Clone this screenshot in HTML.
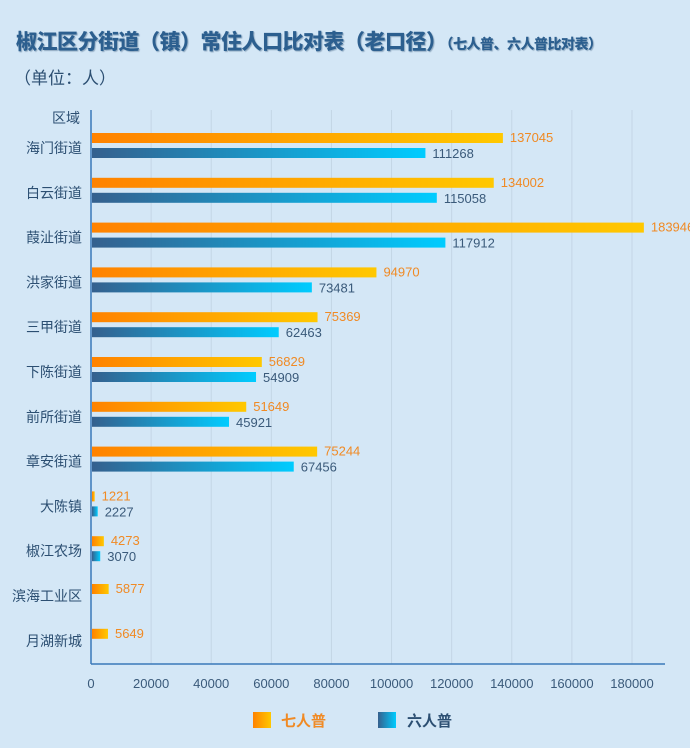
<!DOCTYPE html>
<html><head><meta charset="utf-8"><style>
body{margin:0;width:690px;height:748px;background:#d4e7f6;font-family:"Liberation Sans","Noto Sans CJK SC",sans-serif;overflow:hidden;position:relative}
.t{position:absolute;white-space:nowrap}
</style></head><body>
<div class="t" style="left:16px;top:26px;font-size:21px;font-weight:900;color:#2c5f8f;text-shadow:1px 1px 1px #8fa9c0;letter-spacing:-0.5px">椒江区分街道（镇）常住人口比对表（老口径）<span style="font-size:14px">（七人普、六人普比对表）</span></div>
<div class="t" style="left:14px;top:64px;font-size:17px;color:#2c4f72">（单位：人）</div>
<svg id="c" width="690" height="748" style="position:absolute;left:0;top:0">
<defs>
<linearGradient id="go" x1="0" x2="1"><stop offset="0" stop-color="#ff8200"/><stop offset="1" stop-color="#ffc800"/></linearGradient>
<linearGradient id="gb" x1="0" x2="1"><stop offset="0" stop-color="#35608e"/><stop offset="1" stop-color="#00ccff"/></linearGradient>
</defs>
</svg>
<script>
const categories=["海门街道","白云街道","葭沚街道","洪家街道","三甲街道","下陈街道","前所街道","章安街道","大陈镇","椒江农场","滨海工业区","月湖新城"];
const census7=[137045,134002,183946,94970,75369,56829,51649,75244,1221,4273,5877,5649];
const census6=[111268,115058,117912,73481,62463,54909,45921,67456,2227,3070,null,null];
const ticks=[0,20000,40000,60000,80000,100000,120000,140000,160000,180000];
const NS="http://www.w3.org/2000/svg";
const svg=document.getElementById('c');
const x0=91,xmax=180000,xw=541;
function xs(v){return x0+v/xmax*xw;}
function ys(i){return 148+i*44.8;}
function mk(tag,attrs,parent){const e=document.createElementNS(NS,tag);for(const k in attrs)e.setAttribute(k,attrs[k]);(parent||svg).appendChild(e);return e;}
ticks.forEach(t=>{
 if(t>0){const g=mk('line',{x1:xs(t),x2:xs(t),y1:110,y2:664,stroke:'#c3d6e6','stroke-width':1});
 
 }
 const l=mk('text',{x:xs(t),y:688,'text-anchor':'middle','font-size':13,fill:'#3a5a7a'});l.textContent=t;
 
 
});
const ay=mk('line',{x1:x0,x2:x0,y1:110,y2:664,stroke:'#3a78b8','stroke-width':1.5});


const ax=mk('line',{x1:x0,x2:665,y1:664,y2:664,stroke:'#3a78b8','stroke-width':1.5});


const ht=mk('text',{x:80,y:123,'text-anchor':'end','font-size':14,fill:'#2c4f72'});ht.textContent='区域';


categories.forEach((c,i)=>{
 const y=ys(i);
 const lb=mk('text',{x:82,y:y+5,'text-anchor':'end','font-size':14,fill:'#2c4f72'});lb.textContent=c;
 
 
 const v7=census7[i],v6=census6[i];
 const oy=v6==null?y-12:y-15;
 const b=mk('rect',{x:x0+1,y:oy,width:Math.max(xs(v7)-x0-1,1),height:10,fill:'url(#go)'});
 
 
 const tv=mk('text',{x:xs(v7)+7,y:oy+9,'font-size':13,fill:'#f08a24'});tv.textContent=v7;
 
 
 if(v6!=null){
  const b2=mk('rect',{x:x0+1,y:y,width:Math.max(xs(v6)-x0-1,1),height:10,fill:'url(#gb)'});
  
  
  const t2=mk('text',{x:xs(v6)+7,y:y+10,'font-size':13,fill:'#3a5a7a'});t2.textContent=v6;
  
  
 }
});
const l1=mk('rect',{x:253,y:712,width:18,height:16,fill:'url(#go)'});


const l1t=mk('text',{x:281,y:726,'font-size':15,fill:'#f08a24','font-weight':'bold'});l1t.textContent='七人普';


const l2=mk('rect',{x:378,y:712,width:18,height:16,fill:'url(#gb)'});


const l2t=mk('text',{x:407,y:726,'font-size':15,fill:'#2c4f72','font-weight':'bold'});l2t.textContent='六人普';


</script>
</body></html>
